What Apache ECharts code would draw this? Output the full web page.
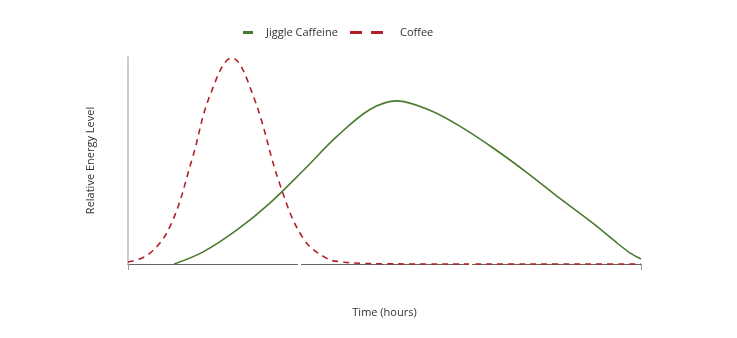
<!DOCTYPE html>
<html><head><meta charset="utf-8">
<script src="https://cdn.jsdelivr.net/npm/echarts@6/dist/echarts.min.js"></script>
<style>html,body{margin:0;padding:0;background:#fff}#c{width:737px;height:338px}</style>
</head><body><div id="c"></div>
<script>
const seriesNames = ['Jiggle Caffeine', 'Coffee'];
const xTitle = 'Time (hours)';
const yTitle = 'Relative Energy Level';
const jiggleX = [1.08, 1.76, 2.54, 3.32, 4.1, 4.88, 5.66, 6.29, 7.06, 7.77, 8.55, 9.33, 10.11, 10.88, 11.43, 11.74, 12];
const jiggleY = [0, 5.9, 16.4, 29.6, 45.4, 61.8, 75.0, 79.2, 74.6, 66.8, 56.2, 44.4, 31.7, 19.7, 10.4, 5.4, 2.4];
const coffeeX = [0, 0.5, 1, 1.5, 1.92, 2.43, 2.93, 3.56, 4.1, 4.65, 5.03, 5.5, 6, 7, 8, 9, 10, 11, 12];
const coffeeY = [1, 5, 19, 51, 82, 100, 81.6, 38.2, 12.4, 2.75, 1, 0.3, 0.1, 0, 0, 0, 0, 0, 0];
const axisBreaks = [4, 8];

const zip = (xs, ys) => xs.map((x, i) => [x, ys[i]]);
const chart = echarts.init(document.getElementById('c'));
const font = '"Open Sans", "Noto Sans", sans-serif';
chart.setOption({
  animation: false,
  textStyle: { fontFamily: font },
  legend: [
    { data: [{ name: seriesNames[0], icon: 'rect' }], left: 238, top: 22, itemWidth: 10, itemHeight: 3,
      textStyle: { color: '#333', fontSize: 11, fontFamily: font, padding: [0, 0, 0, 8] } },
    { data: [{ name: seriesNames[1], icon: 'path://M0,0H12V3H0Z M21,0H33V3H21Z' }], left: 345, top: 22, itemWidth: 33, itemHeight: 3,
      textStyle: { color: '#333', fontSize: 11, fontFamily: font, padding: [0, 0, 0, 12] } }
  ],
  grid: { left: 128, right: 96, top: 57, bottom: 74 },
  xAxis: {
    type: 'value', min: 0, max: 12, interval: 4,
    name: xTitle, nameLocation: 'middle', nameGap: 43,
    nameTextStyle: { color: '#333', fontSize: 11, fontFamily: font },
    axisLine: { show: true, lineStyle: { color: '#666', width: 1 } },
    axisTick: { show: true, customValues: [0, 12], length: 6, lineStyle: { color: '#999' } },
    axisLabel: { show: false },
    splitLine: { show: false }
  },
  yAxis: {
    type: 'value', min: 0, max: 100.5,
    name: yTitle, nameLocation: 'middle', nameGap: 32, nameRotate: 90,
    nameTextStyle: { color: '#333', fontSize: 11, fontFamily: font },
    axisLine: { show: true, lineStyle: { color: '#bbb', width: 1.5 } },
    axisTick: { show: false }, axisLabel: { show: false }, splitLine: { show: false }
  },
  series: [
    { name: 'breaks', type: 'line', data: [], z: 5, silent: true, clip: false,
      markLine: { silent: true, symbol: 'none', label: { show: false }, animation: false,
        lineStyle: { color: '#fff', width: 3, type: 'solid', cap: 'square' },
        data: axisBreaks.map(v => [{ coord: [v, 0.2] }, { coord: [v, 1.2] }]) } },
    { name: seriesNames[0], type: 'line', data: zip(jiggleX, jiggleY), smooth: 0.35, showSymbol: false, clip: false, z: 3,
      lineStyle: { color: '#4a7a2e', width: 1.6 }, itemStyle: { color: '#4a7a2e' } },
    { name: seriesNames[1], type: 'line', data: zip(coffeeX, coffeeY), smooth: 0.4, showSymbol: false, clip: false, z: 4,
      lineStyle: { color: '#b22025', width: 1.6, type: [6, 5] }, itemStyle: { color: '#b22025' } }
  ]
});
</script></body></html>
